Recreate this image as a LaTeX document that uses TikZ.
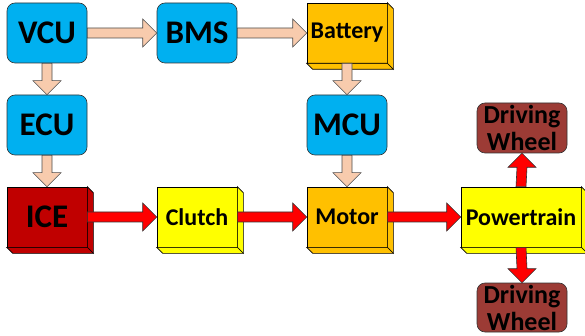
\documentclass[tikz,border=0pt]{standalone}
\usepackage{fontspec}
\setmainfont{Carlito}
\usetikzlibrary{calc}

\definecolor{ctrlblue}{HTML}{00B0F0}
\definecolor{battorange}{HTML}{FFC000}
\definecolor{mechyellow}{HTML}{FFFF00}
\definecolor{icered}{HTML}{C00000}
\definecolor{wheelbrown}{HTML}{9C3B35}
\definecolor{sigpeach}{HTML}{F8CBAD}

% depth faces of a 3D box
\newcommand{\boxdepth}[2]{%
  \filldraw[fill=#2, draw=black, line width=0.6pt] (#1.north east) -- ++(6,6) -- ($(#1.south east)+(6,6)$) -- (#1.south east) -- cycle;
  \filldraw[fill=#2, draw=black, line width=0.6pt] (#1.south west) -- ++(6,6) -- ($(#1.south east)+(6,6)$) -- (#1.south east) -- cycle;}

% block arrows
\newcommand{\flowright}[3]{%
  \draw[#3] ($(#1.east)+(0,-5)$) -- ($(#2.west)+(-14,-5)$) -- ($(#2.west)+(-14,-14)$) -- (#2.west)
    -- ($(#2.west)+(-14,14)$) -- ($(#2.west)+(-14,5)$) -- ($(#1.east)+(0,5)$) -- cycle;}
\newcommand{\flowdown}[3]{%
  \draw[#3] ($(#1.south)+(-5,0)$) -- ($(#2.north)+(-5,-14)$) -- ($(#2.north)+(-14,-14)$) -- (#2.north)
    -- ($(#2.north)+(14,-14)$) -- ($(#2.north)+(5,-14)$) -- ($(#1.south)+(5,0)$) -- cycle;}
\newcommand{\flowup}[3]{%
  \draw[#3] ($(#1.north)+(-5,0)$) -- ($(#2.south)+(-5,14)$) -- ($(#2.south)+(-14,14)$) -- (#2.south)
    -- ($(#2.south)+(14,14)$) -- ($(#2.south)+(5,14)$) -- ($(#1.north)+(5,0)$) -- cycle;}

\begin{document}
\begin{tikzpicture}[x=1pt, y=-1pt,
    ctrl/.style={draw=black!80, line width=0.6pt, fill=ctrlblue, rounded corners=8pt,
      minimum width=80pt, minimum height=60pt, inner sep=0pt, font=\fontsize{33}{33}\selectfont\bfseries},
    unit/.style={draw=black, line width=0.6pt, fill=#1, minimum width=80pt, minimum height=60pt,
      inner sep=0pt, font=\fontsize{24}{24}\selectfont\bfseries},
    wheel/.style={draw=black!80, line width=0.6pt, fill=wheelbrown, rounded corners=8pt,
      minimum width=90pt, inner sep=0pt, align=center, font=\fontsize{26}{27}\selectfont\bfseries},
    sig/.style={draw=black!70, line width=0.6pt, fill=sigpeach},
    power/.style={draw=black!80, line width=0.6pt, fill=red}]

    \useasboundingbox (0,0) rectangle (585,336);

    % Controllers
    \node[ctrl] (vcu) at (47,33) {VCU};
    \node[ctrl] (bms) at (197,33) {BMS};
    \node[ctrl] (ecu) at (47,125) {ECU};
    \node[ctrl] (mcu) at (347,125) {MCU};

    % Components
    \node[unit=battorange] (battery) at (347,33) {Battery};
    \node[unit=icered, font=\fontsize{33}{33}\selectfont\bfseries] (ice) at (47,217) {ICE};
    \node[unit=mechyellow] (clutch) at (197,217) {Clutch};
    \node[unit=battorange] (motor) at (347,217) {Motor};
    \node[unit=mechyellow, minimum width=120pt] (powertrain) at (521,217) {Powertrain};
    \boxdepth{battery}{battorange}
    \boxdepth{ice}{icered}
    \boxdepth{clutch}{mechyellow}
    \boxdepth{motor}{battorange}
    \boxdepth{powertrain}{mechyellow}

    % Wheels
    \node[wheel, minimum height=50pt] (wheeltop) at (522,128) {Driving\\Wheel};
    \node[wheel, minimum height=49pt] (wheelbot) at (522,307.5) {Driving\\Wheel};

    % Signal flow
    \flowright{vcu}{bms}{sig}
    \flowright{bms}{battery}{sig}
    \flowdown{vcu}{ecu}{sig}
    \flowdown{ecu}{ice}{sig}
    \flowdown{battery}{mcu}{sig}
    \flowdown{mcu}{motor}{sig}

    % Power flow
    \flowright{ice}{clutch}{power}
    \flowright{clutch}{motor}{power}
    \flowright{motor}{powertrain}{power}
    \flowup{powertrain}{wheeltop}{power}
    \flowdown{powertrain}{wheelbot}{power}
\end{tikzpicture}
\end{document}
